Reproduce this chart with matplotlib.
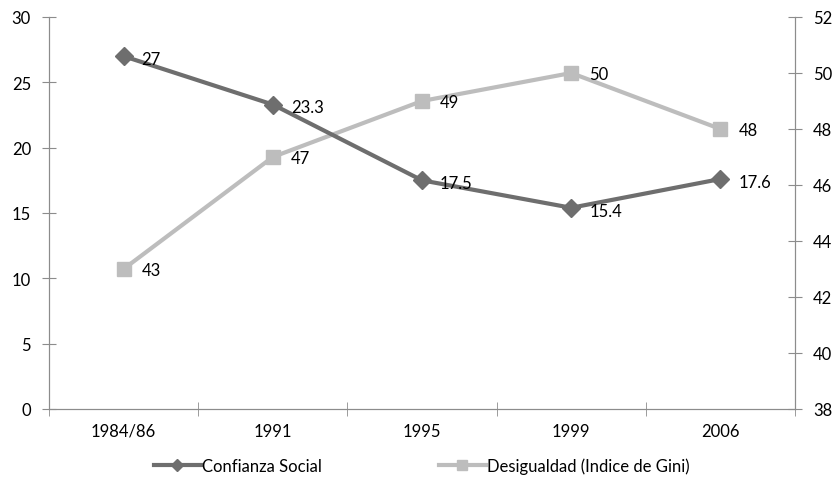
import matplotlib.pyplot as plt
import numpy as np

years = ['1984/86', '1991', '1995', '1999', '2006']
confianza = [27, 23.3, 17.5, 15.4, 17.6]
gini = [43, 47, 49, 50, 48]

conf_labels = ['27', '23.3', '17.5', '15.4', '17.6']
gini_labels = ['43', '47', '49', '50', '48']

plt.rcParams['font.family'] = ['Lato', 'DejaVu Sans']

dark = '#6e6e6e'
light = '#bdbdbd'
axis_col = '#8c8c8c'

fig = plt.figure(figsize=(8.35, 4.89), dpi=100)
ax = fig.add_axes([49 / 835, 1 - 410 / 489, (795 - 49) / 835, (410 - 18) / 489])
ax2 = ax.twinx()

x = np.arange(len(years))

# serie de desigualdad (eje derecho)
l2, = ax2.plot(x, gini, color=light, lw=3, marker='s', ms=10,
               label='Desigualdad (Indice de Gini)')
for xi, v, t in zip(x, gini, gini_labels):
    ax2.annotate(t, (xi, v), xytext=(13, -1), textcoords='offset points',
                 va='center', ha='left', fontsize=12, color='black')

# serie de confianza (eje izquierdo)
l1, = ax.plot(x, confianza, color=dark, lw=3, marker='D', ms=9,
              label='Confianza Social')
for xi, v, t in zip(x, confianza, conf_labels):
    ax.annotate(t, (xi, v), xytext=(13, -2), textcoords='offset points',
                va='center', ha='left', fontsize=12, color='black')

ax.set_zorder(ax2.get_zorder() + 1)
ax.patch.set_visible(False)

ax.set_xlim(-0.5, 4.5)
ax.set_ylim(0, 30)
ax.set_yticks(range(0, 31, 5))
ax2.set_ylim(38, 52)
ax2.set_yticks(range(38, 53, 2))

ax.set_xticks(x)
ax.set_xticklabels(years)
ax.set_xticks(np.arange(-0.5, 5, 1), minor=True)
ax.tick_params(axis='x', which='major', length=0, pad=10, labelsize=12)
ax.tick_params(axis='x', which='minor', length=10, direction='inout', color=axis_col)
ax.tick_params(axis='y', length=10, direction='inout', color=axis_col, labelsize=12, pad=8)
ax2.tick_params(axis='y', length=10, direction='inout', color=axis_col, labelsize=12, pad=8)

for a in (ax, ax2):
    a.spines['top'].set_visible(False)
    for s in ('left', 'right', 'bottom'):
        a.spines[s].set_color(axis_col)

ax.legend(handles=[l1, l2], loc='upper center', bbox_to_anchor=(0.5, -0.085),
          ncol=2, frameon=False, fontsize=12, handlelength=2.8,
          handletextpad=0.1, columnspacing=7, markerscale=0.7)

fig.savefig('out.png', dpi=100)
